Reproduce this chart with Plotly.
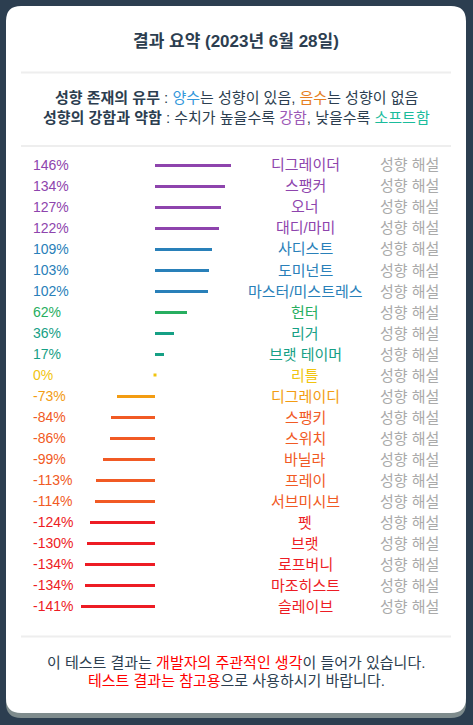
import plotly.graph_objects as go

W, H = 473, 725

# data
types = ["디그레이더", "스팽커", "오너", "대디/마미", "사디스트", "도미넌트",
         "마스터/미스트레스", "헌터", "리거", "브랫 테이머", "리틀", "디그레이디",
         "스팽키", "스위치", "바닐라", "프레이", "서브미시브", "펫", "브랫",
         "로프버니", "마조히스트", "슬레이브"]
scores = [146, 134, 127, 122, 109, 103, 102, 62, 36, 17, 0, -73,
          -84, -86, -99, -113, -114, -124, -130, -134, -134, -141]
title_text = "결과 요약 (2023년 6월 28일)"
link_text = "성향 해설"

FONT = "Liberation Sans, Noto Sans CJK KR, sans-serif"
DARK = "#2c3e50"


# colour of a row depends on the score band
def score_color(v):
    if v >= 120:
        return "#8e44ad"
    if v >= 100:
        return "#2980b9"
    if v >= 50:
        return "#27ae60"
    if v > 0:
        return "#16a085"
    if v == 0:
        return "#f1c40f"
    if v > -80:
        return "#f39c12"
    if v > -120:
        return "#f15a24"
    return "#ed1c24"


def px(x):
    return x / W


def py(y):
    return 1 - y / H


# rounded rectangle path in paper coords, from pixel box
def round_rect(x0, y0, x1, y1, r):
    pts = [
        f"M {px(x0 + r)},{py(y0)}",
        f"L {px(x1 - r)},{py(y0)}",
        f"Q {px(x1)},{py(y0)} {px(x1)},{py(y0 + r)}",
        f"L {px(x1)},{py(y1 - r)}",
        f"Q {px(x1)},{py(y1)} {px(x1 - r)},{py(y1)}",
        f"L {px(x0 + r)},{py(y1)}",
        f"Q {px(x0)},{py(y1)} {px(x0)},{py(y1 - r)}",
        f"L {px(x0)},{py(y0 + r)}",
        f"Q {px(x0)},{py(y0)} {px(x0 + r)},{py(y0)}",
        "Z",
    ]
    return " ".join(pts)


def note(x, y, text, size=15, color=DARK, anchor="center", yref="paper"):
    return dict(x=px(x), y=py(y) if yref == "paper" else y, xref="paper", yref=yref,
                text=text, xanchor=anchor, yanchor="middle", showarrow=False,
                font=dict(size=size, color=color, family=FONT))


colors = [score_color(v) for v in scores]
rows = list(range(len(types)))

fig = go.Figure()
fig.add_trace(go.Bar(
    x=scores, y=rows, orientation="h", width=0.14,
    marker=dict(color=colors, line=dict(width=0)),
    hoverinfo="skip",
))
# zero score still shows a tiny dot
zero_rows = [i for i, v in zip(rows, scores) if v == 0]
fig.add_trace(go.Scatter(
    x=[0] * len(zero_rows), y=zero_rows, mode="markers",
    marker=dict(symbol="square", size=3, color=[colors[i] for i in zero_rows],
                line=dict(width=0)),
    hoverinfo="skip",
))

# axis mapping: 0% at x=155px, 0.523 px per %
x0px, scale = 155, 0.523
row_top, row_step = 165, 21
ann = []
for i, (name, v) in enumerate(zip(types, scores)):
    c = colors[i]
    ann.append(note(31, i, f"{v}%", size=14, color=c, anchor="left", yref="y"))
    ann.append(note(305, i, name, color=c, yref="y"))
    ann.append(note(409.5, i, link_text, color="#aaaaaa", yref="y"))

ann.append(note(236, 42, f"<b>{title_text}</b>", size=17))
ann.append(note(236, 98,
                "<b>성향 존재의 유무</b> : <span style='color:#3498db'>양수</span>는 성향이 있음, "
                "<span style='color:#e67e22'>음수</span>는 성향이 없음"))
ann.append(note(236, 117.5,
                "<b>성향의 강함과 약함</b> : 수치가 높을수록 <span style='color:#9b59b6'>강함</span>, "
                "낮을수록 <span style='color:#1abc9c'>소프트함</span>"))
ann.append(note(236, 662.5,
                "이 테스트 결과는 <span style='color:#ff0000'>개발자의 주관적인 생각</span>이 들어가 있습니다."))
ann.append(note(236, 680.5,
                "<span style='color:#ff0000'>테스트 결과는 참고용</span>으로 사용하시기 바랍니다."))

shapes = [
    dict(type="path", xref="paper", yref="paper", layer="below",
         path=round_rect(6, 11, 466, 718, 15), fillcolor="#7f8c8d", line=dict(width=0)),
    dict(type="path", xref="paper", yref="paper", layer="below",
         path=round_rect(6, 6, 466, 713, 15), fillcolor="#ffffff", line=dict(width=0)),
]
for yl in (72.5, 146, 636.5):
    shapes.append(dict(type="line", xref="paper", yref="paper",
                       x0=px(21), x1=px(451), y0=py(yl), y1=py(yl),
                       line=dict(color="#eeeeee", width=2)))

n = len(types)
y_top_px = row_top - row_step / 2
y_bot_px = row_top + row_step * (n - 1) + row_step / 2

fig.update_layout(
    width=W, height=H,
    margin=dict(l=0, r=0, t=0, b=0),
    paper_bgcolor="#2c3e50",
    plot_bgcolor="rgba(0,0,0,0)",
    showlegend=False,
    bargap=0,
    xaxis=dict(visible=False, domain=[0, 1], fixedrange=True,
               range=[(0 - x0px) / scale, (W - x0px) / scale]),
    yaxis=dict(visible=False, fixedrange=True,
               domain=[py(y_bot_px), py(y_top_px)],
               range=[n - 0.5, -0.5]),
    annotations=ann,
    shapes=shapes,
)

fig.write_html("out.html", config={"displayModeBar": False},
               post_script="document.body.style.margin='0';")
